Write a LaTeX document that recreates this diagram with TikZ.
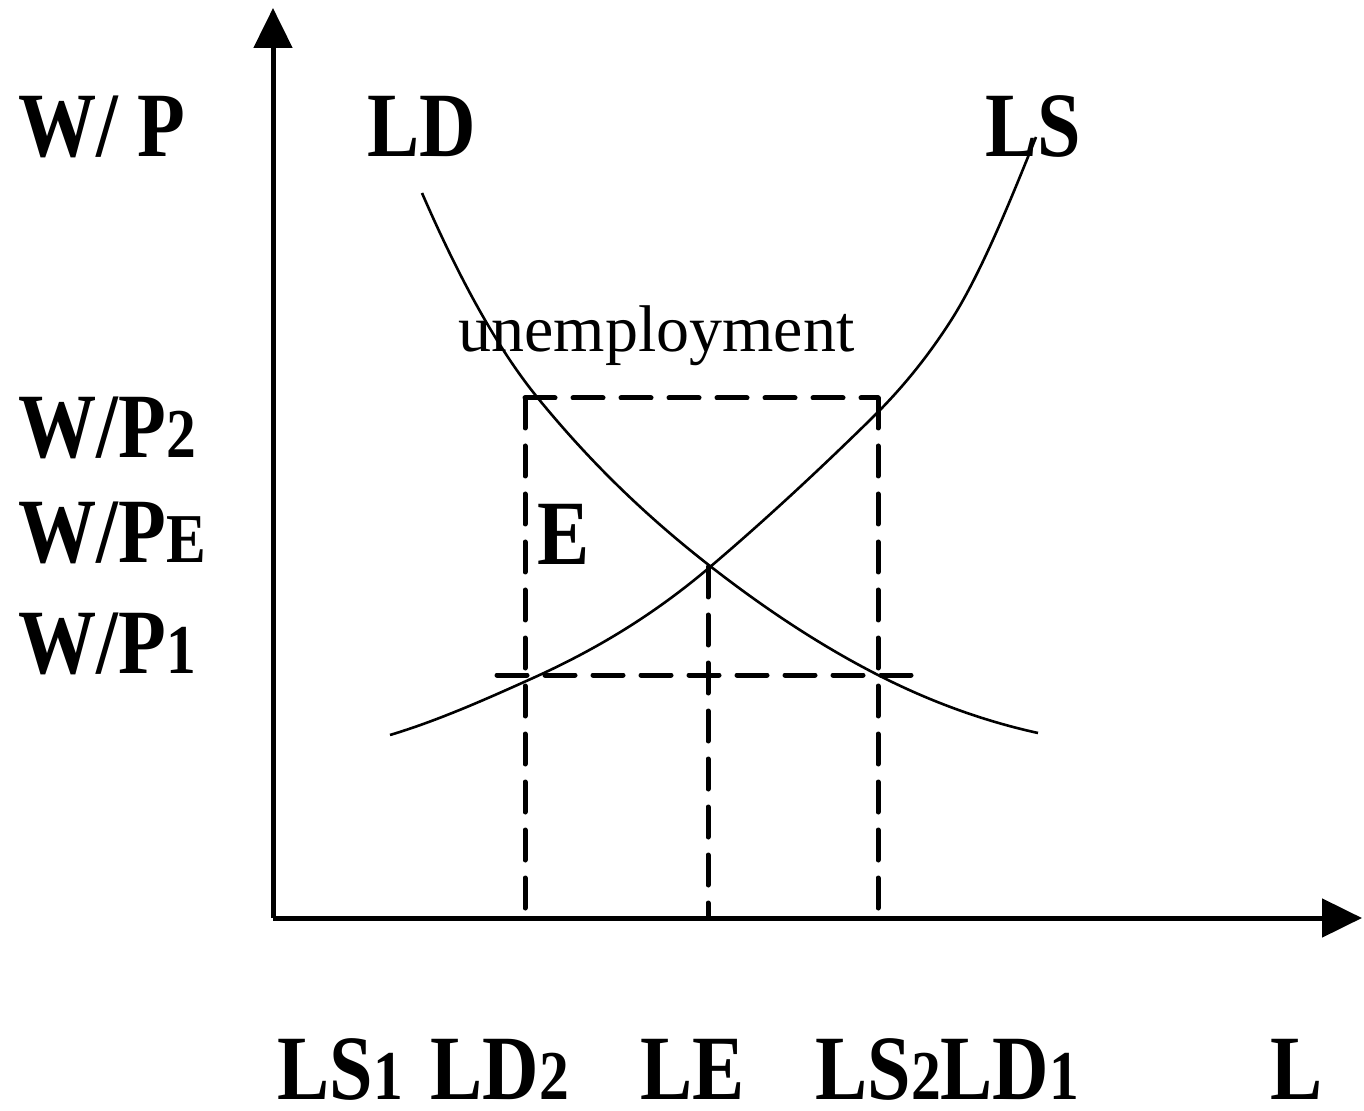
\documentclass[tikz,border=0pt]{standalone}
\usepackage{fontspec}
\setmainfont{Liberation Serif}
\usepackage{graphicx}
\usetikzlibrary{arrows.meta}
\newcommand\sbx[1]{{\fontsize{35}{35}\selectfont #1}}
\newcommand\nar[1]{\scalebox{0.85}[1]{#1}}
\tikzset{
  lab/.style={font=\bfseries\fontsize{46}{46}\selectfont, inner sep=0pt, anchor=base west, text depth=0pt},
  plain/.style={font=\fontsize{33}{33}\selectfont, inner sep=0pt, anchor=base west},
  axis/.style={line width=2.5pt, -{Triangle[length=20pt,width=19pt]}},
  guide/.style={line width=2.5pt, dash pattern=on 15pt off 9pt, line cap=round},
  curve/.style={line width=1.3pt}
}
\begin{document}
\begin{tikzpicture}[x=0.5pt,y=-0.5pt]
\useasboundingbox (0,0) rectangle (1364,1111);
% axes
\coordinate (O) at (273,918);
\coordinate (ytop) at (273,8);
\coordinate (xend) at (1362,918);
\draw[axis] (O) -- (ytop);
\draw[axis] (O) -- (xend);
% labels
\node[lab] (wp) at (18,157) {\nar{W/ P}};
\node[lab] (ld) at (367,157) {\nar{LD}};
\node[lab] (ls) at (985,157) {\nar{LS}};
\node[plain] (unemp) at (458,352) {unemployment};
\node[lab] (wp2) at (18,458) {\nar{W/P\sbx{2}}};
\node[lab] (wpe) at (18,563) {\nar{W/P\sbx{E}}};
\node[lab] (wp1) at (18,673) {\nar{W/P\sbx{1}}};
\node[lab] (e) at (537,565) {\nar{E}};
\node[lab] (ls1) at (277,1099) {\nar{LS\sbx{1}}};
\node[lab] (ld2) at (430,1099) {\nar{LD\sbx{2}}};
\node[lab] (le) at (640,1099) {\nar{LE}};
\node[lab] (ls2ld1) at (815,1099) {\nar{LS\sbx{2}LD\sbx{1}}};
\node[lab] (l) at (1270,1099) {\nar{L}};
% guide lines
\coordinate (A) at (525,398);
\coordinate (B) at (878,398);
\coordinate (C) at (525,918);
\coordinate (D) at (878,918);
\coordinate (Eq) at (708,567);
\coordinate (F) at (708,918);
\coordinate (G) at (497,675);
\coordinate (H) at (921,675);
\draw[guide] (A) -- (C);
\draw[guide] (A) -- (B);
\draw[guide] (B) -- (D);
\draw[guide] (Eq) -- (F);
\draw[guide] (G) -- (H);
% labour demand curve
\draw[curve] (422,193) .. controls (460.3,281.2) and (498.7,349.9) .. (537,397)
  .. controls (594.7,467.9) and (652.3,521) .. (710,566)
  .. controls (766,609.7) and (822,646.4) .. (878,675)
  .. controls (931.3,702.2) and (984.7,721.3) .. (1038,733);
% labour supply curve
\draw[curve] (390,735) .. controls (437.7,720.7) and (485.3,699.5) .. (533,678)
  .. controls (592,651.4) and (651,617.2) .. (710,567)
  .. controls (763.3,521.7) and (816.7,472.3) .. (870,420)
  .. controls (896.7,393.9) and (923.3,363.3) .. (950,322)
  .. controls (978.7,277.6) and (1007.3,208.7) .. (1036,137);
\end{tikzpicture}
\end{document}
